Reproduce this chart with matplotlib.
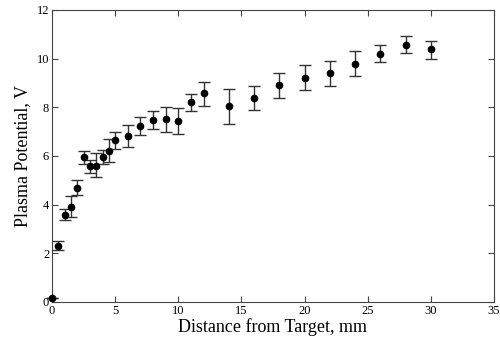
import numpy as np
import matplotlib
matplotlib.use("Agg")
import matplotlib.pyplot as plt

distance = [0, 0.5, 1, 1.5, 2, 2.5, 3, 3.5, 4, 4.5, 5, 6, 7, 8, 9, 10, 11, 12,
            14, 16, 18, 20, 22, 24, 26, 28, 30]
potential = [0.15, 2.3, 3.57, 3.9, 4.68, 5.95, 5.57, 5.6, 5.96, 6.22, 6.66, 6.81,
             7.22, 7.48, 7.5, 7.44, 8.2, 8.57, 8.05, 8.38, 8.9, 9.21, 9.4, 9.78,
             10.17, 10.56, 10.38]
err_low = [0.0, 0.18, 0.22, 0.4, 0.28, 0.27, 0.27, 0.48, 0.3, 0.47, 0.36, 0.46,
           0.37, 0.37, 0.5, 0.53, 0.35, 0.52, 0.74, 0.5, 0.5, 0.5, 0.52, 0.5,
           0.33, 0.34, 0.4]
err_high = [0.0, 0.2, 0.23, 0.45, 0.33, 0.26, 0.26, 0.5, 0.3, 0.48, 0.34, 0.44,
            0.38, 0.37, 0.5, 0.52, 0.35, 0.48, 0.7, 0.5, 0.52, 0.51, 0.52, 0.52,
            0.38, 0.37, 0.36]

plt.rcParams['font.family'] = ['Liberation Serif', 'DejaVu Serif']

fig = plt.figure(figsize=(5, 3.43), dpi=100)
ax = fig.add_axes([0.104, 0.12, 0.884, 0.851])

ax.errorbar(distance, potential, yerr=[err_low, err_high], fmt='o', color='black',
            ecolor='#333333', elinewidth=1, capsize=4, capthick=1, markersize=4.5,
            clip_on=False, zorder=3)

ax.set_xlim(0, 35)
ax.set_ylim(0, 12)
ax.set_xticks(np.arange(0, 36, 5))
ax.set_yticks(np.arange(0, 13, 2))
ax.tick_params(direction='in', top=True, right=True, labelsize=9, length=4,
               color='#444444', pad=2)
for s in ax.spines.values():
    s.set_color('#444444')
ax.set_xlabel("Distance from Target, mm", fontsize=13, labelpad=1)
ax.set_ylabel("Plasma Potential, V", fontsize=13, labelpad=4)

fig.savefig("out.png", dpi=100)
